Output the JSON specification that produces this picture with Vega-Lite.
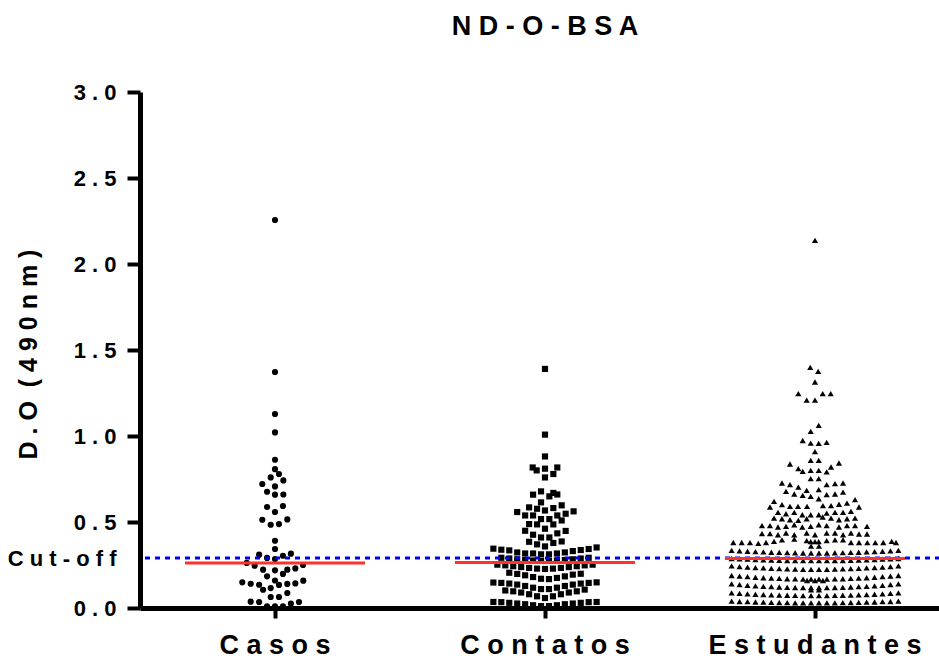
{
"$schema": "https://vega.github.io/schema/vega-lite/v6.json",
"width": 810, "height": 516,
"autosize": "none",
"padding": {"left": 140, "top": 92, "right": 0, "bottom": 59},
"background": "white",
"config": {"view": {"stroke": null}, "font": "Liberation Sans"},
"title": {"text": "N D - O - B S A", "fontSize": 27, "fontWeight": "bold", "font": "Liberation Sans", "color": "black", "anchor": "middle", "offset": 40},
"datasets": {
"pts": [
{"g":"Casos","v":2.256,"j":0},{"g":"Casos","v":1.372,"j":0},{"g":"Casos","v":1.128,"j":0},{"g":"Casos","v":1.021,"j":0},
{"g":"Casos","v":0.862,"j":0},{"g":"Casos","v":0.807,"j":0},{"g":"Casos","v":0.779,"j":0.5},{"g":"Casos","v":0.759,"j":-0.54},
{"g":"Casos","v":0.742,"j":1.05},{"g":"Casos","v":0.721,"j":-1.6},{"g":"Casos","v":0.707,"j":0},{"g":"Casos","v":0.676,"j":-1},
{"g":"Casos","v":0.659,"j":0},{"g":"Casos","v":0.66,"j":1.05},{"g":"Casos","v":0.587,"j":-1},{"g":"Casos","v":0.593,"j":1},
{"g":"Casos","v":0.558,"j":0},{"g":"Casos","v":0.513,"j":-1.6},{"g":"Casos","v":0.515,"j":1.55},{"g":"Casos","v":0.484,"j":-0.54},
{"g":"Casos","v":0.488,"j":0.5},{"g":"Casos","v":0.391,"j":0},{"g":"Casos","v":0.343,"j":0},{"g":"Casos","v":0.31,"j":-2},
{"g":"Casos","v":0.316,"j":2},{"g":"Casos","v":0.304,"j":1},{"g":"Casos","v":0.291,"j":-1},{"g":"Casos","v":0.285,"j":0},
{"g":"Casos","v":0.262,"j":-3.56},{"g":"Casos","v":0.246,"j":-2.56},{"g":"Casos","v":0.25,"j":3.53},{"g":"Casos","v":0.223,"j":-1.5},
{"g":"Casos","v":0.219,"j":0},{"g":"Casos","v":0.223,"j":1.55},{"g":"Casos","v":0.23,"j":2.56},{"g":"Casos","v":0.198,"j":1},
{"g":"Casos","v":0.184,"j":-1},{"g":"Casos","v":0.16,"j":0},{"g":"Casos","v":0.149,"j":-4.12},{"g":"Casos","v":0.141,"j":-3.06},
{"g":"Casos","v":0.135,"j":-2},{"g":"Casos","v":0.134,"j":0.5},{"g":"Casos","v":0.14,"j":1.55},{"g":"Casos","v":0.143,"j":2.56},
{"g":"Casos","v":0.159,"j":3.56},{"g":"Casos","v":0.106,"j":-1.5},{"g":"Casos","v":0.116,"j":-0.54},{"g":"Casos","v":0.087,"j":1.55},
{"g":"Casos","v":0.064,"j":-0.54},{"g":"Casos","v":0.064,"j":0.5},{"g":"Casos","v":0.037,"j":-3.06},{"g":"Casos","v":0.035,"j":-2},
{"g":"Casos","v":0.025,"j":2},{"g":"Casos","v":0.035,"j":3.02},{"g":"Casos","v":0.009,"j":-1},{"g":"Casos","v":0.009,"j":0},
{"g":"Casos","v":0.009,"j":1},

{"g":"Contatos","v":1.39,"j":0},{"g":"Contatos","v":1.008,"j":0},{"g":"Contatos","v":0.881,"j":0},{"g":"Contatos","v":0.817,"j":-1.55},
{"g":"Contatos","v":0.8,"j":-1.05},{"g":"Contatos","v":0.81,"j":0},{"g":"Contatos","v":0.817,"j":1.55},{"g":"Contatos","v":0.779,"j":1.05},
{"g":"Contatos","v":0.759,"j":0},
{"g":"Contatos","v":0.659,"j":-1.5},{"g":"Contatos","v":0.678,"j":-0.5},{"g":"Contatos","v":0.649,"j":0.55},{"g":"Contatos","v":0.669,"j":1.05},
{"g":"Contatos","v":0.66,"j":1.55},{"g":"Contatos","v":0.614,"j":-0.5},{"g":"Contatos","v":0.597,"j":2.1},{"g":"Contatos","v":0.585,"j":-2},
{"g":"Contatos","v":0.577,"j":-1},{"g":"Contatos","v":0.581,"j":1.05},{"g":"Contatos","v":0.558,"j":-3.5},{"g":"Contatos","v":0.567,"j":0},
{"g":"Contatos","v":0.562,"j":3.6},{"g":"Contatos","v":0.538,"j":-2.5},{"g":"Contatos","v":0.538,"j":-1.5},{"g":"Contatos","v":0.538,"j":1.55},
{"g":"Contatos","v":0.548,"j":2.6},{"g":"Contatos","v":0.517,"j":-0.5},{"g":"Contatos","v":0.517,"j":0.55},{"g":"Contatos","v":0.509,"j":2.1},
{"g":"Contatos","v":0.488,"j":-2},{"g":"Contatos","v":0.486,"j":-1},{"g":"Contatos","v":0.486,"j":1.05},{"g":"Contatos","v":0.461,"j":0},
{"g":"Contatos","v":0.449,"j":-2.5},{"g":"Contatos","v":0.434,"j":1.55},{"g":"Contatos","v":0.448,"j":2.6},{"g":"Contatos","v":0.426,"j":-1.5},
{"g":"Contatos","v":0.41,"j":-0.5},{"g":"Contatos","v":0.41,"j":0.55},{"g":"Contatos","v":0.385,"j":-2},{"g":"Contatos","v":0.37,"j":-1},
{"g":"Contatos","v":0.378,"j":1.05},{"g":"Contatos","v":0.387,"j":2.1},{"g":"Contatos","v":0.358,"j":0},
{"g":"Contatos","v":0.345,"j":-6.5},{"g":"Contatos","v":0.339,"j":-5.5},{"g":"Contatos","v":0.335,"j":-4.5},{"g":"Contatos","v":0.323,"j":-3.5},
{"g":"Contatos","v":0.317,"j":-2.5},{"g":"Contatos","v":0.317,"j":-1.5},{"g":"Contatos","v":0.312,"j":-0.5},{"g":"Contatos","v":0.312,"j":0.5},
{"g":"Contatos","v":0.317,"j":1.5},{"g":"Contatos","v":0.323,"j":2.5},{"g":"Contatos","v":0.331,"j":3.5},{"g":"Contatos","v":0.337,"j":4.5},
{"g":"Contatos","v":0.343,"j":5.5},{"g":"Contatos","v":0.352,"j":6.5},
{"g":"Contatos","v":0.292,"j":-5.5},{"g":"Contatos","v":0.288,"j":-4.5},{"g":"Contatos","v":0.283,"j":-3.5},{"g":"Contatos","v":0.279,"j":-2.5},
{"g":"Contatos","v":0.276,"j":-1.5},{"g":"Contatos","v":0.274,"j":-0.5},{"g":"Contatos","v":0.274,"j":0.5},{"g":"Contatos","v":0.276,"j":1.5},
{"g":"Contatos","v":0.279,"j":2.5},{"g":"Contatos","v":0.283,"j":3.5},{"g":"Contatos","v":0.288,"j":4.5},{"g":"Contatos","v":0.292,"j":5.5},
{"g":"Contatos","v":0.252,"j":-6},{"g":"Contatos","v":0.248,"j":-5},{"g":"Contatos","v":0.243,"j":-4},{"g":"Contatos","v":0.238,"j":-3},
{"g":"Contatos","v":0.233,"j":-2},{"g":"Contatos","v":0.229,"j":-1},{"g":"Contatos","v":0.227,"j":0},{"g":"Contatos","v":0.229,"j":1},
{"g":"Contatos","v":0.233,"j":2},{"g":"Contatos","v":0.238,"j":3},{"g":"Contatos","v":0.243,"j":4},{"g":"Contatos","v":0.248,"j":5},
{"g":"Contatos","v":0.252,"j":6},
{"g":"Contatos","v":0.205,"j":-4.5},{"g":"Contatos","v":0.198,"j":-3.5},{"g":"Contatos","v":0.19,"j":-2.5},{"g":"Contatos","v":0.18,"j":-1.5},
{"g":"Contatos","v":0.17,"j":-0.5},{"g":"Contatos","v":0.168,"j":0.5},{"g":"Contatos","v":0.175,"j":1.5},{"g":"Contatos","v":0.184,"j":2.5},
{"g":"Contatos","v":0.194,"j":3.5},{"g":"Contatos","v":0.199,"j":4.5},
{"g":"Contatos","v":0.148,"j":-6.5},{"g":"Contatos","v":0.146,"j":-5.5},{"g":"Contatos","v":0.142,"j":-4.5},{"g":"Contatos","v":0.136,"j":-3.5},
{"g":"Contatos","v":0.128,"j":-2.5},{"g":"Contatos","v":0.118,"j":-1.5},{"g":"Contatos","v":0.11,"j":-0.5},{"g":"Contatos","v":0.11,"j":0.5},
{"g":"Contatos","v":0.118,"j":1.5},{"g":"Contatos","v":0.128,"j":2.5},{"g":"Contatos","v":0.136,"j":3.5},{"g":"Contatos","v":0.142,"j":4.5},
{"g":"Contatos","v":0.146,"j":5.5},{"g":"Contatos","v":0.149,"j":6.5},
{"g":"Contatos","v":0.102,"j":-5},{"g":"Contatos","v":0.097,"j":-4},{"g":"Contatos","v":0.09,"j":-3},{"g":"Contatos","v":0.08,"j":-2},
{"g":"Contatos","v":0.068,"j":-1},{"g":"Contatos","v":0.058,"j":0},{"g":"Contatos","v":0.068,"j":1},{"g":"Contatos","v":0.08,"j":2},
{"g":"Contatos","v":0.09,"j":3},{"g":"Contatos","v":0.097,"j":4},{"g":"Contatos","v":0.107,"j":5},
{"g":"Contatos","v":0.035,"j":-6.5},{"g":"Contatos","v":0.034,"j":-5.5},{"g":"Contatos","v":0.03,"j":-4.5},{"g":"Contatos","v":0.026,"j":-3.5},
{"g":"Contatos","v":0.022,"j":-2.5},{"g":"Contatos","v":0.016,"j":-1.5},{"g":"Contatos","v":0.011,"j":-0.5},{"g":"Contatos","v":0.011,"j":0.5},
{"g":"Contatos","v":0.016,"j":1.5},{"g":"Contatos","v":0.022,"j":2.5},{"g":"Contatos","v":0.026,"j":3.5},{"g":"Contatos","v":0.03,"j":4.5},
{"g":"Contatos","v":0.034,"j":5.5},{"g":"Contatos","v":0.035,"j":6.5},

{"g":"Estudantes","v":2.137,"j":0},{"g":"Estudantes","v":1.399,"j":-0.6},{"g":"Estudantes","v":1.376,"j":0.4},{"g":"Estudantes","v":1.314,"j":0},
{"g":"Estudantes","v":1.246,"j":-2.1},{"g":"Estudantes","v":1.209,"j":-1.05},{"g":"Estudantes","v":1.209,"j":0},{"g":"Estudantes","v":1.246,"j":0.97},
{"g":"Estudantes","v":1.246,"j":1.98},{"g":"Estudantes","v":1.062,"j":0.47},{"g":"Estudantes","v":1.027,"j":-0.54},{"g":"Estudantes","v":0.974,"j":-1.55},
{"g":"Estudantes","v":0.959,"j":-0.54},{"g":"Estudantes","v":0.957,"j":0.47},{"g":"Estudantes","v":0.963,"j":1.47},{"g":"Estudantes","v":0.909,"j":0},
{"g":"Estudantes","v":0.858,"j":-0.54},{"g":"Estudantes","v":0.858,"j":0.47},{"g":"Estudantes","v":0.837,"j":-3.15},{"g":"Estudantes","v":0.843,"j":3.02},
{"g":"Estudantes","v":0.81,"j":-2.1},{"g":"Estudantes","v":0.794,"j":-1.55},{"g":"Estudantes","v":0.8,"j":-0.54},{"g":"Estudantes","v":0.8,"j":0.47},
{"g":"Estudantes","v":0.791,"j":1.47},{"g":"Estudantes","v":0.82,"j":2.02},{"g":"Estudantes","v":0.752,"j":-0.54},{"g":"Estudantes","v":0.752,"j":0.47},
{"g":"Estudantes","v":0.727,"j":-4.16},{"g":"Estudantes","v":0.717,"j":-3.15},{"g":"Estudantes","v":0.703,"j":-2.1},{"g":"Estudantes","v":0.717,"j":1.47},
{"g":"Estudantes","v":0.723,"j":2.52},{"g":"Estudantes","v":0.727,"j":3.53},{"g":"Estudantes","v":0.678,"j":-3.65},{"g":"Estudantes","v":0.663,"j":-2.61},
{"g":"Estudantes","v":0.655,"j":-1.55},{"g":"Estudantes","v":0.684,"j":-1.05},{"g":"Estudantes","v":0.649,"j":-0.54},{"g":"Estudantes","v":0.688,"j":0.47},
{"g":"Estudantes","v":0.635,"j":0.47},{"g":"Estudantes","v":0.659,"j":1.47},{"g":"Estudantes","v":0.663,"j":2.52},{"g":"Estudantes","v":0.674,"j":3.53},
{"g":"Estudantes","v":0.62,"j":-5.16},{"g":"Estudantes","v":0.601,"j":-4.16},{"g":"Estudantes","v":0.61,"j":4.03},{"g":"Estudantes","v":0.63,"j":5.04},
{"g":"Estudantes","v":0.587,"j":-5.67},{"g":"Estudantes","v":0.591,"j":-3.15},{"g":"Estudantes","v":0.591,"j":-2.14},{"g":"Estudantes","v":0.591,"j":-1},
{"g":"Estudantes","v":0.595,"j":1},{"g":"Estudantes","v":0.595,"j":2.02},{"g":"Estudantes","v":0.603,"j":3.02},{"g":"Estudantes","v":0.587,"j":5.54},
{"g":"Estudantes","v":0.556,"j":-4.66},{"g":"Estudantes","v":0.548,"j":-3.65},{"g":"Estudantes","v":0.556,"j":-2.61},{"g":"Estudantes","v":0.542,"j":-1.6},
{"g":"Estudantes","v":0.542,"j":-0.54},{"g":"Estudantes","v":0.542,"j":0.47},{"g":"Estudantes","v":0.552,"j":1.47},{"g":"Estudantes","v":0.556,"j":2.52},
{"g":"Estudantes","v":0.556,"j":3.53},{"g":"Estudantes","v":0.562,"j":4.53},
{"g":"Estudantes","v":0.523,"j":-5.16},{"g":"Estudantes","v":0.519,"j":-4.16},{"g":"Estudantes","v":0.513,"j":-3.15},{"g":"Estudantes","v":0.509,"j":-2.1},
{"g":"Estudantes","v":0.519,"j":-1.05},{"g":"Estudantes","v":0.529,"j":0.97},{"g":"Estudantes","v":0.523,"j":2.02},{"g":"Estudantes","v":0.513,"j":3.02},
{"g":"Estudantes","v":0.519,"j":4.03},{"g":"Estudantes","v":0.523,"j":5.04},
{"g":"Estudantes","v":0.479,"j":-6.68},{"g":"Estudantes","v":0.479,"j":-5.67},{"g":"Estudantes","v":0.471,"j":-4.66},{"g":"Estudantes","v":0.475,"j":-3.65},
{"g":"Estudantes","v":0.484,"j":-2.61},{"g":"Estudantes","v":0.471,"j":-1.6},{"g":"Estudantes","v":0.475,"j":-0.54},{"g":"Estudantes","v":0.484,"j":0.47},
{"g":"Estudantes","v":0.479,"j":1.47},{"g":"Estudantes","v":0.471,"j":3.02},{"g":"Estudantes","v":0.479,"j":4.03},{"g":"Estudantes","v":0.479,"j":5.04},
{"g":"Estudantes","v":0.475,"j":6.55},
{"g":"Estudantes","v":0.432,"j":-6.68},{"g":"Estudantes","v":0.432,"j":-5.67},{"g":"Estudantes","v":0.426,"j":-4.66},{"g":"Estudantes","v":0.436,"j":-3.65},
{"g":"Estudantes","v":0.426,"j":-2.61},{"g":"Estudantes","v":0.436,"j":-1.05},{"g":"Estudantes","v":0.426,"j":0},{"g":"Estudantes","v":0.436,"j":1.47},
{"g":"Estudantes","v":0.436,"j":2.52},{"g":"Estudantes","v":0.426,"j":3.53},{"g":"Estudantes","v":0.436,"j":4.53},{"g":"Estudantes","v":0.43,"j":5.54},
{"g":"Estudantes","v":0.43,"j":6.55},
{"g":"Estudantes","v":0.381,"j":-10.29},{"g":"Estudantes","v":0.381,"j":-9.23},{"g":"Estudantes","v":0.38,"j":-8.19},{"g":"Estudantes","v":0.376,"j":-7.14},
{"g":"Estudantes","v":0.381,"j":-6.17},{"g":"Estudantes","v":0.387,"j":-5.16},{"g":"Estudantes","v":0.396,"j":-4.16},{"g":"Estudantes","v":0.4,"j":-2.61},
{"g":"Estudantes","v":0.392,"j":-1.05},{"g":"Estudantes","v":0.386,"j":-0.54},{"g":"Estudantes","v":0.386,"j":0},{"g":"Estudantes","v":0.386,"j":0.47},
{"g":"Estudantes","v":0.392,"j":1.47},{"g":"Estudantes","v":0.396,"j":2.52},{"g":"Estudantes","v":0.396,"j":3.53},{"g":"Estudantes","v":0.381,"j":4.53},
{"g":"Estudantes","v":0.381,"j":5.54},{"g":"Estudantes","v":0.38,"j":6.59},{"g":"Estudantes","v":0.38,"j":7.59},{"g":"Estudantes","v":0.381,"j":8.6},
{"g":"Estudantes","v":0.387,"j":9.66},{"g":"Estudantes","v":0.381,"j":10.2},
{"g":"Estudantes","v":0.335,"j":-10.5},{"g":"Estudantes","v":0.332,"j":-9.5},{"g":"Estudantes","v":0.33,"j":-8.5},{"g":"Estudantes","v":0.328,"j":-7.5},
{"g":"Estudantes","v":0.326,"j":-6.5},{"g":"Estudantes","v":0.324,"j":-5.5},{"g":"Estudantes","v":0.323,"j":-4.5},{"g":"Estudantes","v":0.322,"j":-3.5},
{"g":"Estudantes","v":0.321,"j":-2.5},{"g":"Estudantes","v":0.32,"j":-1.5},{"g":"Estudantes","v":0.32,"j":-0.5},{"g":"Estudantes","v":0.32,"j":0.5},
{"g":"Estudantes","v":0.32,"j":1.5},{"g":"Estudantes","v":0.321,"j":2.5},{"g":"Estudantes","v":0.322,"j":3.5},{"g":"Estudantes","v":0.323,"j":4.5},
{"g":"Estudantes","v":0.324,"j":5.5},{"g":"Estudantes","v":0.326,"j":6.5},{"g":"Estudantes","v":0.328,"j":7.5},{"g":"Estudantes","v":0.33,"j":8.5},
{"g":"Estudantes","v":0.332,"j":9.5},{"g":"Estudantes","v":0.335,"j":10.5},
{"g":"Estudantes","v":0.288,"j":-10.5},{"g":"Estudantes","v":0.286,"j":-9.5},{"g":"Estudantes","v":0.284,"j":-8.5},{"g":"Estudantes","v":0.282,"j":-7.5},
{"g":"Estudantes","v":0.28,"j":-6.5},{"g":"Estudantes","v":0.279,"j":-5.5},{"g":"Estudantes","v":0.277,"j":-4.5},{"g":"Estudantes","v":0.276,"j":-3.5},
{"g":"Estudantes","v":0.276,"j":-2.5},{"g":"Estudantes","v":0.275,"j":-1.5},{"g":"Estudantes","v":0.275,"j":-0.5},{"g":"Estudantes","v":0.275,"j":0.5},
{"g":"Estudantes","v":0.275,"j":1.5},{"g":"Estudantes","v":0.276,"j":2.5},{"g":"Estudantes","v":0.276,"j":3.5},{"g":"Estudantes","v":0.277,"j":4.5},
{"g":"Estudantes","v":0.279,"j":5.5},{"g":"Estudantes","v":0.28,"j":6.5},{"g":"Estudantes","v":0.282,"j":7.5},{"g":"Estudantes","v":0.284,"j":8.5},
{"g":"Estudantes","v":0.286,"j":9.5},{"g":"Estudantes","v":0.288,"j":10.5},
{"g":"Estudantes","v":0.245,"j":-10.5},{"g":"Estudantes","v":0.241,"j":-9.5},{"g":"Estudantes","v":0.238,"j":-8.5},{"g":"Estudantes","v":0.235,"j":-7.5},
{"g":"Estudantes","v":0.233,"j":-6.5},{"g":"Estudantes","v":0.23,"j":-5.5},{"g":"Estudantes","v":0.229,"j":-4.5},{"g":"Estudantes","v":0.227,"j":-3.5},
{"g":"Estudantes","v":0.226,"j":-2.5},{"g":"Estudantes","v":0.225,"j":-1.5},{"g":"Estudantes","v":0.225,"j":-0.5},{"g":"Estudantes","v":0.225,"j":0.5},
{"g":"Estudantes","v":0.225,"j":1.5},{"g":"Estudantes","v":0.226,"j":2.5},{"g":"Estudantes","v":0.227,"j":3.5},{"g":"Estudantes","v":0.229,"j":4.5},
{"g":"Estudantes","v":0.23,"j":5.5},{"g":"Estudantes","v":0.233,"j":6.5},{"g":"Estudantes","v":0.235,"j":7.5},{"g":"Estudantes","v":0.238,"j":8.5},
{"g":"Estudantes","v":0.241,"j":9.5},{"g":"Estudantes","v":0.245,"j":10.5},
{"g":"Estudantes","v":0.189,"j":-10.5},{"g":"Estudantes","v":0.185,"j":-9.5},{"g":"Estudantes","v":0.182,"j":-8.5},{"g":"Estudantes","v":0.179,"j":-7.5},
{"g":"Estudantes","v":0.176,"j":-6.5},{"g":"Estudantes","v":0.174,"j":-5.5},{"g":"Estudantes","v":0.172,"j":-4.5},{"g":"Estudantes","v":0.17,"j":-3.5},
{"g":"Estudantes","v":0.169,"j":-2.5},{"g":"Estudantes","v":0.168,"j":-1.5},{"g":"Estudantes","v":0.168,"j":-0.5},{"g":"Estudantes","v":0.168,"j":0.5},
{"g":"Estudantes","v":0.168,"j":1.5},{"g":"Estudantes","v":0.169,"j":2.5},{"g":"Estudantes","v":0.17,"j":3.5},{"g":"Estudantes","v":0.172,"j":4.5},
{"g":"Estudantes","v":0.174,"j":5.5},{"g":"Estudantes","v":0.176,"j":6.5},{"g":"Estudantes","v":0.179,"j":7.5},{"g":"Estudantes","v":0.182,"j":8.5},
{"g":"Estudantes","v":0.185,"j":9.5},{"g":"Estudantes","v":0.189,"j":10.5},
{"g":"Estudantes","v":0.14,"j":-10.5},{"g":"Estudantes","v":0.136,"j":-9.5},{"g":"Estudantes","v":0.132,"j":-8.5},{"g":"Estudantes","v":0.129,"j":-7.5},
{"g":"Estudantes","v":0.126,"j":-6.5},{"g":"Estudantes","v":0.124,"j":-5.5},{"g":"Estudantes","v":0.122,"j":-4.5},{"g":"Estudantes","v":0.12,"j":-3.5},
{"g":"Estudantes","v":0.119,"j":-2.5},{"g":"Estudantes","v":0.118,"j":-1.5},{"g":"Estudantes","v":0.118,"j":-0.5},{"g":"Estudantes","v":0.118,"j":0.5},
{"g":"Estudantes","v":0.118,"j":1.5},{"g":"Estudantes","v":0.119,"j":2.5},{"g":"Estudantes","v":0.12,"j":3.5},{"g":"Estudantes","v":0.122,"j":4.5},
{"g":"Estudantes","v":0.124,"j":5.5},{"g":"Estudantes","v":0.126,"j":6.5},{"g":"Estudantes","v":0.129,"j":7.5},{"g":"Estudantes","v":0.132,"j":8.5},
{"g":"Estudantes","v":0.136,"j":9.5},{"g":"Estudantes","v":0.14,"j":10.5},
{"g":"Estudantes","v":0.088,"j":-10.5},{"g":"Estudantes","v":0.085,"j":-9.5},{"g":"Estudantes","v":0.082,"j":-8.5},{"g":"Estudantes","v":0.08,"j":-7.5},
{"g":"Estudantes","v":0.078,"j":-6.5},{"g":"Estudantes","v":0.076,"j":-5.5},{"g":"Estudantes","v":0.075,"j":-4.5},{"g":"Estudantes","v":0.074,"j":-3.5},
{"g":"Estudantes","v":0.073,"j":-2.5},{"g":"Estudantes","v":0.072,"j":-1.5},{"g":"Estudantes","v":0.072,"j":-0.5},{"g":"Estudantes","v":0.072,"j":0.5},
{"g":"Estudantes","v":0.072,"j":1.5},{"g":"Estudantes","v":0.073,"j":2.5},{"g":"Estudantes","v":0.074,"j":3.5},{"g":"Estudantes","v":0.075,"j":4.5},
{"g":"Estudantes","v":0.076,"j":5.5},{"g":"Estudantes","v":0.078,"j":6.5},{"g":"Estudantes","v":0.08,"j":7.5},{"g":"Estudantes","v":0.082,"j":8.5},
{"g":"Estudantes","v":0.085,"j":9.5},{"g":"Estudantes","v":0.088,"j":10.5},
{"g":"Estudantes","v":0.04,"j":-10.5},{"g":"Estudantes","v":0.038,"j":-9.5},{"g":"Estudantes","v":0.037,"j":-8.5},{"g":"Estudantes","v":0.035,"j":-7.5},
{"g":"Estudantes","v":0.034,"j":-6.5},{"g":"Estudantes","v":0.033,"j":-5.5},{"g":"Estudantes","v":0.032,"j":-4.5},{"g":"Estudantes","v":0.031,"j":-3.5},
{"g":"Estudantes","v":0.03,"j":-2.5},{"g":"Estudantes","v":0.03,"j":-1.5},{"g":"Estudantes","v":0.03,"j":-0.5},{"g":"Estudantes","v":0.03,"j":0.5},
{"g":"Estudantes","v":0.03,"j":1.5},{"g":"Estudantes","v":0.03,"j":2.5},{"g":"Estudantes","v":0.031,"j":3.5},{"g":"Estudantes","v":0.032,"j":4.5},
{"g":"Estudantes","v":0.033,"j":5.5},{"g":"Estudantes","v":0.034,"j":6.5},{"g":"Estudantes","v":0.035,"j":7.5},{"g":"Estudantes","v":0.037,"j":8.5},
{"g":"Estudantes","v":0.038,"j":9.5},{"g":"Estudantes","v":0.04,"j":10.5},
{"g":"Estudantes","v":0.16,"j":-1},{"g":"Estudantes","v":0.16,"j":0},{"g":"Estudantes","v":0.16,"j":1},
{"g":"Estudantes","v":0.105,"j":-0.5},{"g":"Estudantes","v":0.105,"j":0.5},{"g":"Estudantes","v":0.36,"j":-0.5},{"g":"Estudantes","v":0.36,"j":0.5}
],
"med": [
{"g":"Casos","v":0.262},{"g":"Contatos","v":0.265},{"g":"Estudantes","v":0.288}
],
"cut": [
{"v":0.29}
]
},
"layer": [
{
"data": {"name": "pts"},
"mark": {"type": "point", "filled": true, "opacity": 1, "strokeWidth": 0, "color": "black"},
"encoding": {
"x": {"field": "g", "type": "nominal",
  "scale": {"type": "band", "domain": ["Casos", "Contatos", "Estudantes"], "paddingInner": 0, "paddingOuter": 0},
  "axis": {"title": null, "labelAngle": 0, "labelLimit": 0, "labelExpr": "join(split(datum.label, ''), ' ')", "labelFont": "Liberation Sans", "labelFontSize": 27, "labelFontWeight": "bold", "labelColor": "black", "labelPadding": 14, "tickSize": 10, "tickWidth": 4, "tickColor": "black", "domainWidth": 5, "domainColor": "black", "grid": false}},
"xOffset": {"field": "j", "type": "quantitative", "scale": {"domain": [-17, 17]}},
"y": {"field": "v", "type": "quantitative",
  "scale": {"domain": [0, 3], "nice": false},
  "axis": {"values": [0, 0.29, 0.5, 1, 1.5, 2, 2.5, 3],
    "labelExpr": "abs(datum.value - 0.29) < 0.001 ? 'C u t - o f f' : join(split(format(datum.value, '.1f'), ''), ' ')",
    "labelFont": "Liberation Sans", "labelFontSize": 22, "labelFontWeight": "bold", "labelColor": "black", "labelPadding": 11,
    "labelOverlap": false, "labelFlush": false, "labelLimit": 0,
    "tickSize": 13, "tickWidth": 4, "tickColor": "black",
    "tickOpacity": {"condition": {"test": "abs(datum.value - 0.29) < 0.001", "value": 0}, "value": 1},
    "domainWidth": 5, "domainColor": "black", "grid": false,
    "title": "D . O \u00a0( 4 9 0 n m )", "titleFont": "Liberation Sans", "titleFontSize": 25, "titleFontWeight": "bold", "titleColor": "black",
    "titleX": -104, "titleY": 262, "titleAngle": -90, "titleBaseline": "alphabetic", "titleAlign": "center"}},
"shape": {"field": "g", "type": "nominal", "scale": {"domain": ["Casos", "Contatos", "Estudantes"], "range": ["circle", "square", "triangle-up"]}, "legend": null},
"size": {"field": "g", "type": "ordinal", "scale": {"domain": ["Casos", "Contatos", "Estudantes"], "range": [38, 38, 30]}, "legend": null}
}
},
{
"data": {"name": "cut"},
"mark": {"type": "rule", "color": "#0000ff", "strokeWidth": 3, "strokeDash": [5, 5], "opacity": 1},
"encoding": {"y": {"field": "v", "type": "quantitative"}}
},
{
"data": {"name": "med"},
"mark": {"type": "tick", "color": "#ff3030", "thickness": 3, "size": 180, "opacity": 1},
"encoding": {
"x": {"field": "g", "type": "nominal"},
"y": {"field": "v", "type": "quantitative"}
}
}
]
}
